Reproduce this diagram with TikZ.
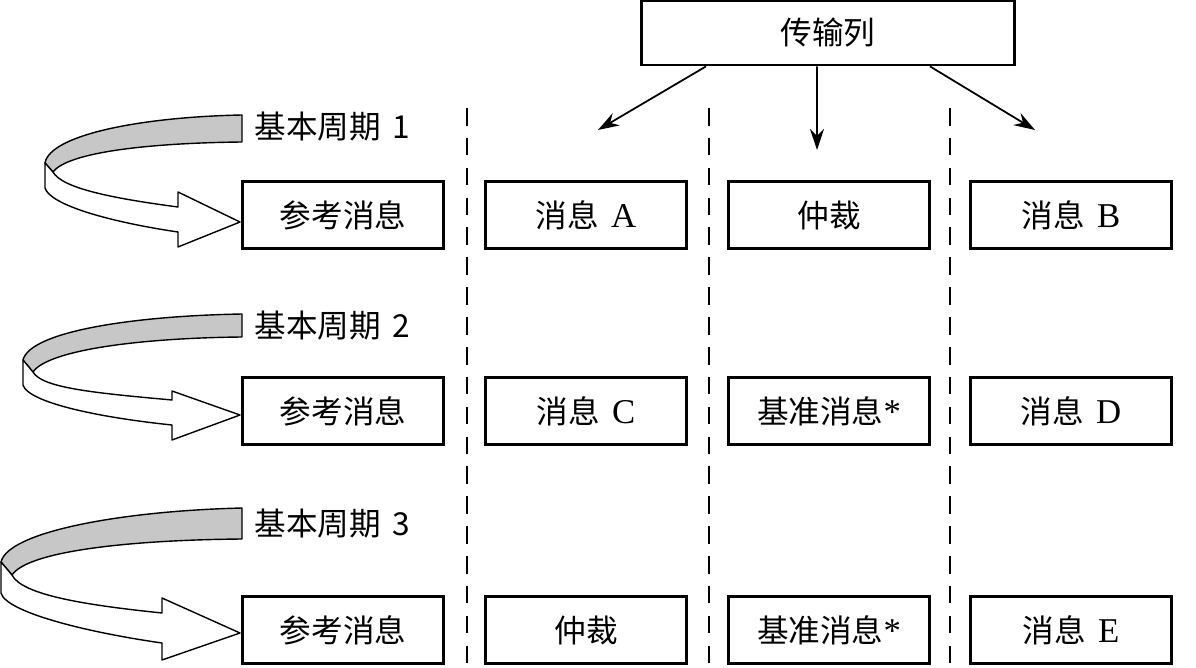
\documentclass[tikz,border=0pt]{standalone}
\usepackage{fontspec}
\setmainfont{Liberation Serif}[Scale=1.1]
\newfontfamily\cjk{Noto Sans CJK SC}
\usetikzlibrary{arrows.meta}

\begin{document}
\begin{tikzpicture}[x=0.02cm,y=-0.02cm,
  box/.style={draw,line width=1.6pt,minimum width=4.02cm,minimum height=1.34cm,inner sep=0pt,font=\fontsize{18}{20}\selectfont},
  period/.style={font=\fontsize{18}{20}\selectfont},
  sep/.style={line width=0.9pt,dash pattern=on 10pt off 7pt},
  feed/.style={line width=1pt,-{Stealth[length=12pt,width=8pt,inset=4pt]}},
  band/.style={draw,line width=0.8pt,line join=round,fill=black!22},
  turn/.style={draw,line width=0.8pt,line join=round,fill=white}]
\useasboundingbox (0,0) rectangle (1196,668);

% separators
\foreach \x in {467,709,950}
  \draw[sep] (\x,108) -- (\x,668);

% transmission column
\node[box,minimum width=7.46cm,minimum height=1.28cm] (col) at (828,33) {\cjk 传输列};
\coordinate (fa) at (598,130);
\coordinate (fb) at (817,150);
\coordinate (fc) at (1035,130);
\draw[feed] ([xshift=-2.44cm]col.south) -- (fa);
\draw[feed] ([xshift=-0.22cm]col.south) -- (fb);
\draw[feed] ([xshift=2.04cm]col.south) -- (fc);

% basic cycle 1
\node[period] (per1) at (332,127) {\cjk 基本周期\hspace{0.35em}1};
\node[box] (ref1) at (343,215) {\cjk 参考消息};
\node[box] (msgA) at (586,215) {{\cjk 消息}\hspace{0.35em}A};
\node[box] (arb1) at (829,215) {\cjk 仲裁};
\node[box] (msgB) at (1071,215) {{\cjk 消息}\hspace{0.35em}B};
\draw[band] (242,115) .. controls (140,117) and (50,135) .. (45,163) -- (53,172)
  .. controls (68,152) and (150,143) .. (242,142) -- cycle;
\draw[turn] (45,163) -- (45,188) .. controls (50,205) and (110,222) .. (178,232)
  -- (178,247) -- (240,222) -- (178,192) -- (178,207)
  .. controls (110,198) and (62,188) .. (53,172) -- cycle;

% basic cycle 2
\node[period] (per2) at (332,326) {\cjk 基本周期\hspace{0.35em}2};
\node[box] (ref2) at (343,411) {\cjk 参考消息};
\node[box] (msgC) at (586,411) {{\cjk 消息}\hspace{0.35em}C};
\node[box] (base1) at (829,411) {{\cjk 基准消息}*};
\node[box] (msgD) at (1071,411) {{\cjk 消息}\hspace{0.35em}D};
\draw[band] (242,314) .. controls (130,316) and (30,332) .. (23,360) -- (33,372)
  .. controls (48,350) and (140,338) .. (242,337) -- cycle;
\draw[turn] (23,360) -- (23,385) .. controls (28,402) and (95,417) .. (172,425)
  -- (172,440) -- (240,415) -- (172,391) -- (172,400)
  .. controls (95,393) and (42,388) .. (33,372) -- cycle;

% basic cycle 3
\node[period] (per3) at (332,524) {\cjk 基本周期\hspace{0.35em}3};
\node[box] (ref3) at (343,630) {\cjk 参考消息};
\node[box] (arb2) at (586,630) {\cjk 仲裁};
\node[box] (base2) at (829,630) {{\cjk 基准消息}*};
\node[box] (msgE) at (1071,630) {{\cjk 消息}\hspace{0.35em}E};
\draw[band] (242,508) .. controls (120,511) and (8,532) .. (1,562) -- (12,575)
  .. controls (28,551) and (130,540) .. (242,539) -- cycle;
\draw[turn] (1,562) -- (1,593) .. controls (6,612) and (85,632) .. (162,643)
  -- (162,660) -- (240,633) -- (162,598) -- (162,613)
  .. controls (85,605) and (22,595) .. (12,575) -- cycle;
\end{tikzpicture}
\end{document}
